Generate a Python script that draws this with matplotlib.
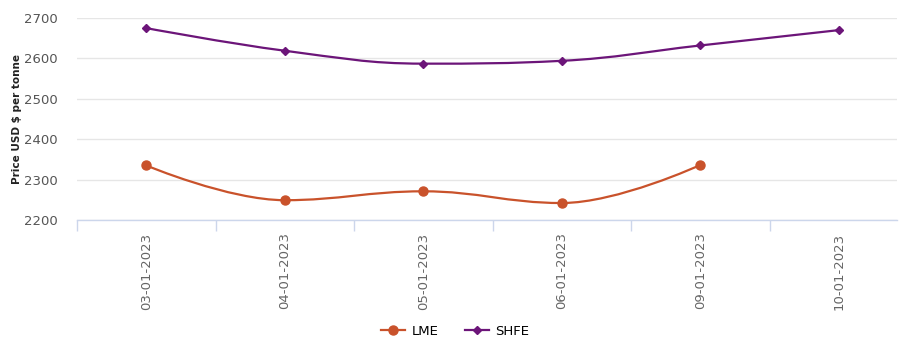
import numpy as np
import matplotlib.pyplot as plt
from matplotlib.path import Path
from matplotlib.patches import PathPatch
from matplotlib.lines import Line2D

# === DATA ===
dates = ['03-01-2023', '04-01-2023', '05-01-2023', '06-01-2023', '09-01-2023', '10-01-2023']
lme = [2335, 2249, 2271, 2242, 2336]
shfe = [2675, 2619, 2587, 2594, 2632, 2670]
yticks = [2200, 2300, 2400, 2500, 2600, 2700]

LME_COLOR = '#c9522b'
SHFE_COLOR = '#6c1579'


def spline_path(xs, ys, smoothing=1.5):
    """Highcharts-style spline as cubic bezier path"""
    n = len(xs)
    denom = smoothing + 1
    left = [(xs[i], ys[i]) for i in range(n)]
    right = [(xs[i], ys[i]) for i in range(n)]
    for i in range(1, n - 1):
        px, py = xs[i], ys[i]
        lx, ly = xs[i - 1], ys[i - 1]
        nx, ny = xs[i + 1], ys[i + 1]
        lcx = (smoothing * px + lx) / denom
        lcy = (smoothing * py + ly) / denom
        rcx = (smoothing * px + nx) / denom
        rcy = (smoothing * py + ny) / denom
        if rcx != lcx:
            corr = (rcy - lcy) * (rcx - px) / (rcx - lcx) + py - rcy
            lcy += corr
            rcy += corr
        if lcy > ly and lcy > py:
            lcy = max(ly, py)
            rcy = 2 * py - lcy
        elif lcy < ly and lcy < py:
            lcy = min(ly, py)
            rcy = 2 * py - lcy
        if rcy > ny and rcy > py:
            rcy = max(ny, py)
            lcy = 2 * py - rcy
        elif rcy < ny and rcy < py:
            rcy = min(ny, py)
            lcy = 2 * py - rcy
        left[i] = (lcx, lcy)
        right[i] = (rcx, rcy)
    verts = [(xs[0], ys[0])]
    codes = [Path.MOVETO]
    for i in range(1, n):
        verts += [right[i - 1], left[i], (xs[i], ys[i])]
        codes += [Path.CURVE4] * 3
    return Path(verts, codes)


fig = plt.figure(figsize=(9.07, 3.53), dpi=100)
ax = fig.add_axes([0.0849, 0.3768, 0.904, 0.5722])

x = np.arange(len(dates))

for vals, color, marker, ms in [(lme, LME_COLOR, 'o', 6.5), (shfe, SHFE_COLOR, 'D', 4.5)]:
    xs = x[:len(vals)]
    ax.add_patch(PathPatch(spline_path(list(xs), vals), fill=False, edgecolor=color,
                           linewidth=1.6, zorder=3))
    ax.plot(xs, vals, linestyle='none', marker=marker, markersize=ms, color=color, zorder=4)

ax.set_xlim(-0.5, 5.42)
ax.set_ylim(2200, 2700)
ax.set_yticks(yticks)
ax.set_xticks(x)
ax.set_xticklabels(dates, rotation=90, fontsize=9.5, color='#666666')
ax.set_xticks(np.arange(-0.5, 5.0, 1), minor=True)
ax.tick_params(axis='x', which='major', length=0, pad=9)
ax.tick_params(axis='x', which='minor', length=8, color='#ccd6eb', width=1)
ax.tick_params(axis='y', length=0, labelsize=9.5, labelcolor='#555555', pad=14)

ax.grid(axis='y', color='#e6e6e6', linewidth=1)
ax.set_axisbelow(True)
for side in ['top', 'right', 'left']:
    ax.spines[side].set_visible(False)
ax.spines['bottom'].set_color('#ccd6eb')
ax.spines['bottom'].set_linewidth(1)

fig.text(0.019, 0.663, 'Price USD $ per tonne', rotation=90, fontsize=7.5,
         fontweight='bold', ha='center', va='center', color='#222222')

handles = [Line2D([], [], color=LME_COLOR, marker='o', markersize=6.5, linewidth=1.6),
           Line2D([], [], color=SHFE_COLOR, marker='D', markersize=4.5, linewidth=1.6)]
fig.legend(handles, ['LME', 'SHFE'], loc='center', bbox_to_anchor=(0.502, 0.062), ncol=2,
           frameon=False, fontsize=9.5, handlelength=1.8, columnspacing=2.0,
           handletextpad=0.5)

plt.savefig('out.png', dpi=100)
